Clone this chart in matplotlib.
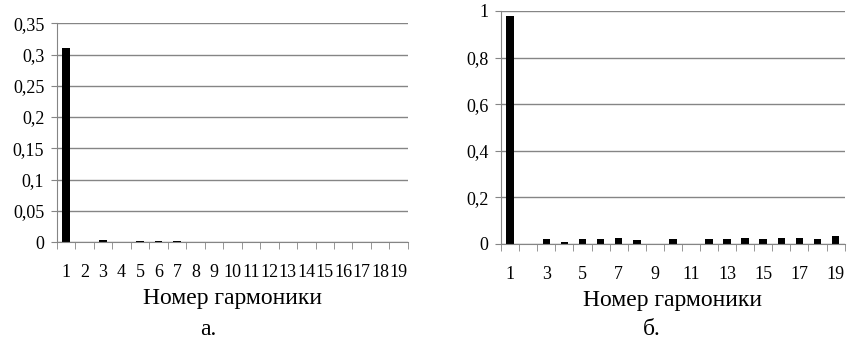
import numpy as np
import matplotlib.pyplot as plt
from matplotlib.ticker import FixedLocator, FuncFormatter

harmonics = list(range(1, 20))
# spectrum a.
amp_a = [0.31, 0, 0.0037, 0, 0.0015, 0.0015, 0.0015, 0, 0, 0,
         0, 0, 0, 0, 0, 0, 0, 0, 0]
# spectrum b.
amp_b = [0.98, 0, 0.019, 0.008, 0.021, 0.021, 0.027, 0.016, 0, 0.021,
         0, 0.021, 0.019, 0.026, 0.019, 0.023, 0.023, 0.019, 0.034]

plt.rcParams['font.family'] = 'serif'
plt.rcParams['font.serif'] = ['Liberation Serif', 'DejaVu Serif']

fig = plt.figure(figsize=(8.48, 3.42), dpi=100)
ax1 = fig.add_axes([0.067, 0.292, 0.414, 0.640])
ax2 = fig.add_axes([0.591, 0.287, 0.405, 0.681])

grid_c = '#858585'


def style(ax, vals, ymax, ystep, fmt, labels):
    x = np.arange(len(vals))
    ax.bar(x, vals, width=0.42, color='black', zorder=3)
    ax.set_xlim(-0.5, len(vals) - 0.5)
    ax.set_ylim(0, ymax)
    ax.set_yticks(np.arange(0, ymax + 1e-9, ystep))
    ax.yaxis.set_major_formatter(FuncFormatter(fmt))
    ax.grid(axis='y', color=grid_c, linewidth=1, zorder=0)
    for s in ['top', 'right']:
        ax.spines[s].set_visible(False)
    ax.spines['left'].set_color(grid_c)
    ax.spines['bottom'].set_color(grid_c)
    ax.spines['left'].set_zorder(4)
    ax.spines['bottom'].set_zorder(4)
    ax.tick_params(axis='y', length=4, color=grid_c, labelsize=13, pad=5)
    # labels centred on categories, tick marks on category boundaries
    ax.set_xticks(x)
    ax.set_xticklabels(labels)
    ax.tick_params(axis='x', which='major', length=0, labelsize=13, pad=16)
    ax.xaxis.set_minor_locator(FixedLocator(np.arange(-0.5, len(vals), 1)))
    ax.tick_params(axis='x', which='minor', length=5, color=grid_c)
    ax.set_xlabel('Номер гармоники', fontsize=17, labelpad=5)


def comma(v, pos):
    s = ('%.2f' % v).rstrip('0').rstrip('.')
    return s.replace('.', ',')


style(ax1, amp_a, 0.35, 0.05, comma, [str(h) for h in harmonics])
style(ax2, amp_b, 1.0, 0.2, comma,
      [str(h) if h % 2 == 1 else '' for h in harmonics])

fig.text(0.245, 0.02, 'а.', fontsize=17, ha='center')
fig.text(0.769, 0.02, 'б.', fontsize=17, ha='center')

fig.savefig('out.png', dpi=100)
